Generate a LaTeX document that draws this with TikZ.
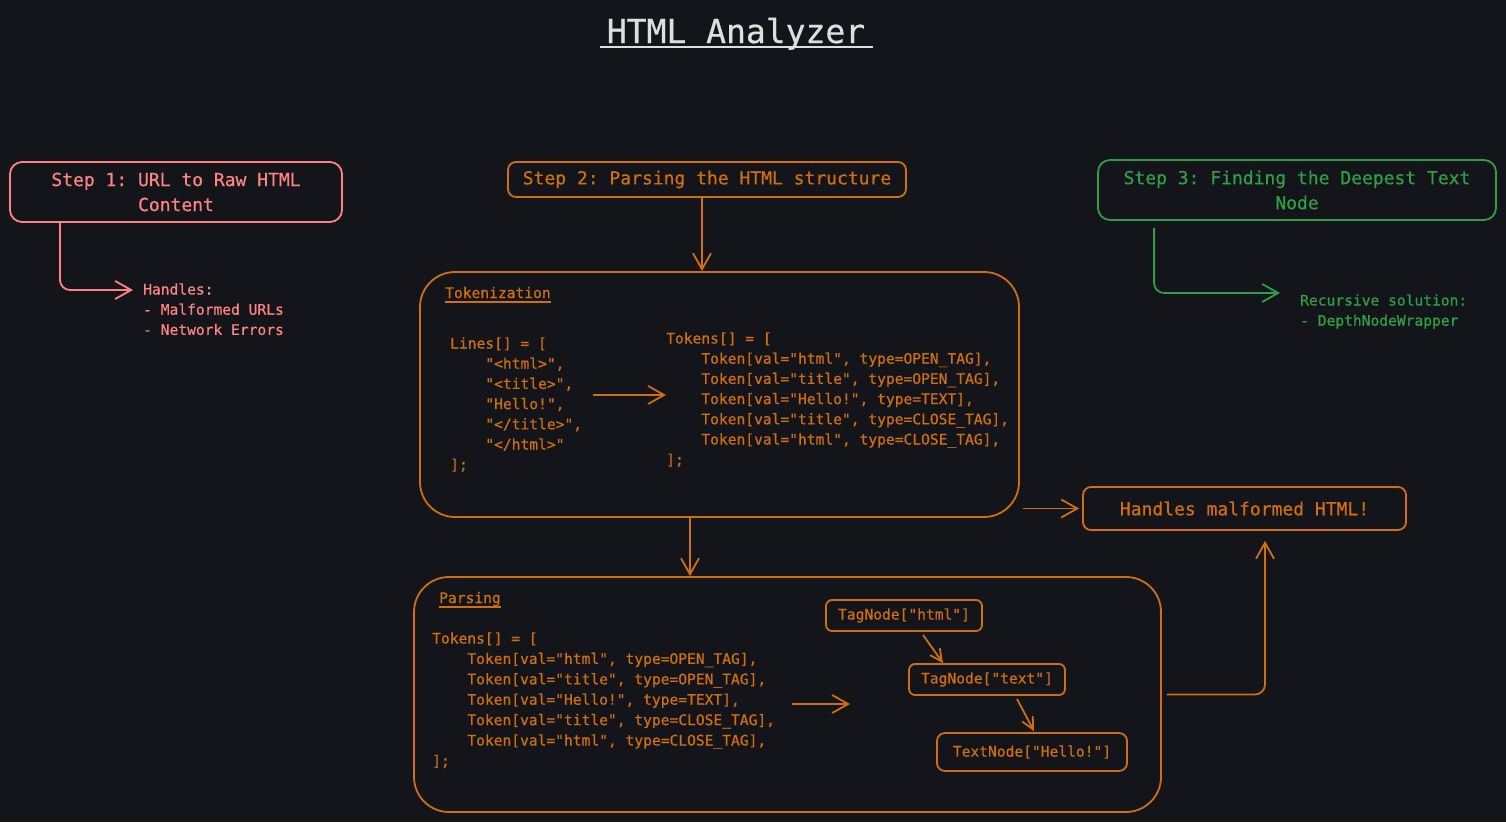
\documentclass[tikz,border=0pt]{standalone}
\usepackage{fontspec}
\setmonofont[FakeBold=0.6]{DejaVu Sans Mono}
\usetikzlibrary{arrows.meta}
\definecolor{bg}{RGB}{19,21,26}
\definecolor{org}{RGB}{208,110,16}
\definecolor{pnk}{RGB}{255,131,131}
\definecolor{grn}{RGB}{47,158,68}
\definecolor{ttl}{RGB}{222,222,222}
\newcommand\ind{\hphantom{0000}}
\newcommand\codeblk[1]{\begin{tabular}[t]{@{}l@{}}#1\end{tabular}}
\begin{document}
\begin{tikzpicture}[x=1pt,y=-1pt,
  box/.style={draw, line width=1.8pt, inner sep=0pt, align=center},
  stepfont/.style={font=\ttfamily\fontsize{18}{25}\selectfont},
  codefont/.style={font=\ttfamily\fontsize{14.6}{20.2}\selectfont},
  pcodefont/.style={font=\ttfamily\fontsize{14.6}{20.4}\selectfont},
  code/.style={codefont, inner sep=0pt, anchor=base west},
  conn/.style={line width=1.8pt, rounded corners=10pt, -{Straight Barb[length=16pt,width=18pt,line width=1.8pt]}},
  small/.style={line width=1.8pt, -{Straight Barb[length=12pt,width=12pt,line width=1.8pt]}},
  ]
\fill[bg] (0,0) rectangle (1506,822);
\useasboundingbox (0,0) rectangle (1506,822);

% title
\node[ttl, font=\ttfamily\fontsize{33}{36}\selectfont, inner sep=0pt, anchor=base] (title) at (736,43) {HTML Analyzer};
\draw[ttl, line width=2.2pt] ([xshift=-7pt,yshift=-4pt]title.base west) -- ([xshift=8pt,yshift=-4pt]title.base east);

% steps
\node[box, draw=pnk, text=pnk, stepfont, rounded corners=12pt, minimum width=332pt, minimum height=60pt] (s1) at (176,192) {Step 1: URL to Raw HTML\\Content};
\node[box, draw=org, text=org, stepfont, rounded corners=8pt, minimum width=398pt, minimum height=35pt] (s2) at (707,179.5) {Step 2: Parsing the HTML structure};
\node[box, draw=grn, text=grn, stepfont, rounded corners=12pt, minimum width=398pt, minimum height=60pt] (s3) at (1297,190) {Step 3: Finding the Deepest Text\\Node};

% step 1 notes
\node[code, pnk, anchor=base west] (hnd) at (143,294.5) {\codeblk{Handles:\\- Malformed URLs\\- Network Errors}};
\draw[conn, pnk] ([xshift=-116pt]s1.south) |- ([xshift=-10pt,yshift=4.5pt]hnd.base west);

% step 3 notes
\node[code, grn, anchor=base west] (rec) at (1300,305.5) {\codeblk{Recursive solution:\\- DepthNodeWrapper}};
\draw[conn, grn] ([xshift=57pt,yshift=-7pt]s3.south west) |- ([xshift=-20pt,yshift=12.5pt]rec.base west);

% tokenization box
\node[box, draw=org, rounded corners=35pt, minimum width=599pt, minimum height=245pt] (tok) at (719.5,394.5) {};
\node[code, org] (toklbl) at (445,298) {Tokenization};
\draw[org, line width=2.2pt] ([yshift=-4pt]toklbl.base west) -- ([yshift=-4pt]toklbl.base east);
\node[code, org] (lines) at (450,348.5) {\codeblk{Lines[] = [\\
\ind"<html>",\\
\ind"<title>",\\
\ind"Hello!",\\
\ind"</title>",\\
\ind"</html>"\\
];}};
\node[code, org] (tokens) at (666,343.5) {\codeblk{Tokens[] = [\\
\ind Token[val="html", type=OPEN\_TAG],\\
\ind Token[val="title", type=OPEN\_TAG],\\
\ind Token[val="Hello!", type=TEXT],\\
\ind Token[val="title", type=CLOSE\_TAG],\\
\ind Token[val="html", type=CLOSE\_TAG],\\
];}};
\coordinate (la) at (593,395);
\draw[conn, org] (la) -- (tokens.west |- la);

\draw[conn, org] ([xshift=-5pt]s2.south) -- ([xshift=-5pt]s2.south |- tok.north);

% parsing box
\node[box, draw=org, rounded corners=35pt, minimum width=747pt, minimum height=235pt] (parse) at (787.5,694.5) {};
\draw[conn, org] ([xshift=-29.5pt]tok.south) -- ([xshift=-29.5pt]tok.south |- parse.north);
\node[code, org] (parlbl) at (439,603) {Parsing};
\draw[org, line width=2.2pt] ([yshift=-4pt]parlbl.base west) -- ([yshift=-4pt]parlbl.base east);
\node[code, pcodefont, org] (ptoks) at (432,643.5) {\codeblk{Tokens[] = [\\
\ind Token[val="html", type=OPEN\_TAG],\\
\ind Token[val="title", type=OPEN\_TAG],\\
\ind Token[val="Hello!", type=TEXT],\\
\ind Token[val="title", type=CLOSE\_TAG],\\
\ind Token[val="html", type=CLOSE\_TAG],\\
];}};
\coordinate (treein) at (850,704);
\draw[conn, org] (treein -| 792,0) -- (treein);

% tree
\node[box, draw=org, text=org, codefont, rounded corners=6pt, minimum width=156pt, minimum height=31pt] (tn1) at (904,615.5) {TagNode["html"]};
\node[box, draw=org, text=org, codefont, rounded corners=6pt, minimum width=156pt, minimum height=31pt] (tn2) at (987,679.5) {TagNode["text"]};
\node[box, draw=org, text=org, codefont, rounded corners=8pt, minimum width=190pt, minimum height=38pt] (tn3) at (1032,752) {TextNode["Hello!"]};
\draw[small, org] ([xshift=19pt,yshift=-3pt]tn1.south) -- ([xshift=-44pt]tn2.north);
\draw[small, org] ([xshift=30pt,yshift=-3pt]tn2.south) -- ([xshift=2pt,yshift=1pt]tn3.north);

% handles malformed
\node[box, draw=org, text=org, stepfont, rounded corners=8pt, minimum width=323pt, minimum height=43pt] (hmh) at (1244.5,508.5) {Handles malformed HTML!};
\draw[conn, org] ([xshift=3pt]tok.east |- hmh.west) -- ([xshift=-3pt]hmh.west);
\draw[conn, org] ([xshift=5pt]parse.east) -| ([xshift=20.5pt,yshift=-10pt]hmh.south);
\end{tikzpicture}
\end{document}
